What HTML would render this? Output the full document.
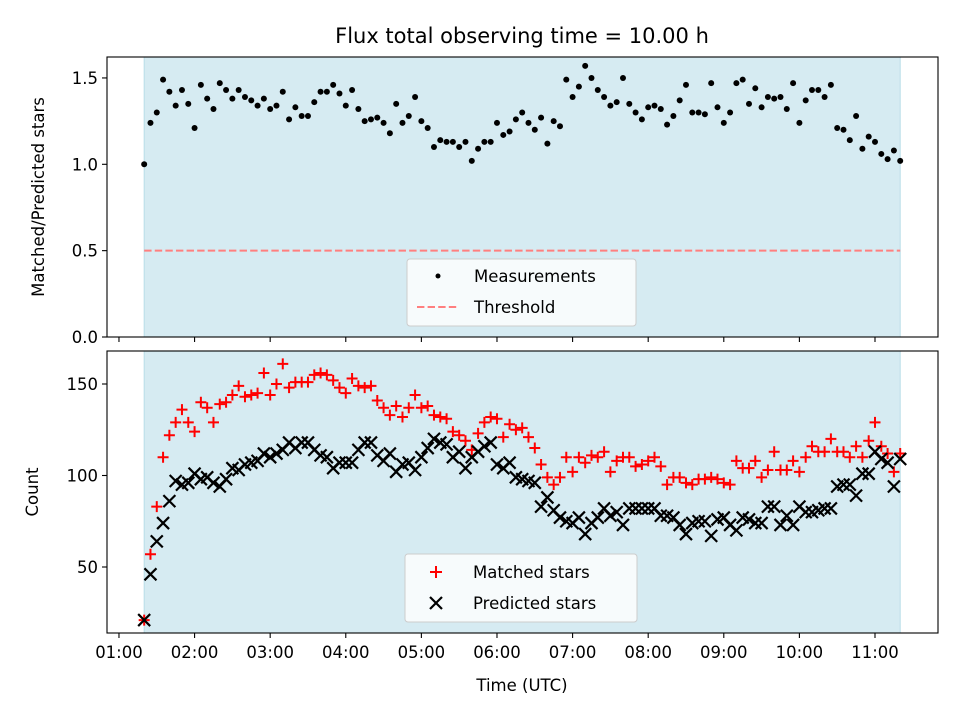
<!DOCTYPE html>
<html><head><meta charset="utf-8">
<style>
html,body{margin:0;padding:0;background:#fff;}
svg{display:block;font-family:"DejaVu Sans","Liberation Sans",sans-serif;}
</style></head>
<body>
<svg id="chart" width="960" height="720" viewBox="0 0 960 720">
</svg>
<script>
// ---- data ----
const startMinutes = 80; // 01:20
const stepMinutes = 5;
const ratioValues = [1.00,1.24,1.30,1.49,1.42,1.34,1.43,1.35,1.21,1.46,1.38,1.32,1.47,1.43,1.38,1.43,1.39,1.37,1.34,1.38,1.32,1.34,1.42,1.26,1.33,1.28,1.28,1.36,1.42,1.42,1.46,1.41,1.34,1.43,1.32,1.25,1.26,1.27,1.24,1.18,1.35,1.24,1.28,1.39,1.25,1.21,1.10,1.14,1.13,1.13,1.10,1.13,1.02,1.09,1.13,1.13,1.24,1.17,1.19,1.26,1.30,1.24,1.20,1.27,1.12,1.25,1.22,1.49,1.39,1.45,1.57,1.50,1.43,1.39,1.34,1.36,1.50,1.35,1.30,1.26,1.33,1.34,1.32,1.23,1.28,1.37,1.46,1.30,1.30,1.29,1.47,1.33,1.24,1.30,1.47,1.49,1.35,1.44,1.33,1.39,1.38,1.39,1.32,1.47,1.24,1.37,1.43,1.43,1.39,1.46,1.21,1.20,1.14,1.28,1.09,1.16,1.13,1.06,1.03,1.08,1.02];
const predictedValues = [21,46,64,74,86,97,95,96,101,98,99,96,94,98,104,103,106,107,108,112,110,112,114,118,115,118,118,114,111,110,104,107,107,107,114,118,118,111,108,112,102,106,107,103,110,115,120,118,117,110,113,104,110,113,116,118,106,104,107,99,98,97,96,83,88,81,77,75,74,77,68,74,77,82,78,80,73,82,82,82,82,82,78,78,77,73,68,74,75,75,67,76,77,73,70,77,76,74,74,83,83,73,78,73,83,80,80,81,82,82,94,95,95,89,101,101,113,109,107,94,109];
const matchedValues = [21,57,83,110,122,129,136,129,124,140,137,129,139,140,144,149,143,144,145,156,144,150,161,148,151,151,151,155,156,155,152,148,145,153,149,148,149,141,137,133,138,132,137,144,137,138,133,132,131,124,122,119,114,123,129,132,131,121,128,125,126,121,115,106,99,95,99,110,102,110,107,111,110,113,102,108,110,110,105,106,108,110,105,95,99,99,96,95,98,98,99,98,96,95,108,104,104,108,99,103,113,103,103,108,102,110,116,113,113,120,113,113,110,116,110,119,129,116,112,102,112];
const thresholdValue = 0.5;
const xTickLabels = ["01:00","02:00","03:00","04:00","05:00","06:00","07:00","08:00","09:00","10:00","11:00"];
const xTickMinutes = [60,120,180,240,300,360,420,480,540,600,660];
const topYTicks = [0.0,0.5,1.0,1.5];
const botYTicks = [50,100,150];

// ---- axes functions ----
const AX = {left:107,right:938};
const xMin = 50.5, xMax = 710;
function xs(m){return AX.left + (m - xMin)/(xMax - xMin)*(AX.right-AX.left);}
const TOP = {top:57,bottom:337};
function yTop(v){return 337 - v*172.7;}
const BOT = {top:351,bottom:633};
function yBot(v){return 567 - (v-50)*1.83;}

const NS="http://www.w3.org/2000/svg";
const svg=document.getElementById('chart');
function mk(tag,attrs,parent){const e=document.createElementNS(NS,tag);for(const k in attrs)e.setAttribute(k,attrs[k]);(parent||svg).appendChild(e);return e;}

const n = ratioValues.length;
const tStart = startMinutes, tEnd = startMinutes + (n-1)*stepMinutes;

// title
let t=mk('text',{x:522,y:43,'text-anchor':'middle','font-size':'21'});
t.textContent='Flux total observing time = 10.00 h';



function panel(P, name){
  const g=mk('g',{});
  
  
  const bg=mk('rect',{x:AX.left,y:P.top,width:AX.right-AX.left,height:P.bottom-P.top,fill:'#fff'},g);
  const sh=mk('rect',{x:xs(tStart),y:P.top,width:xs(tEnd)-xs(tStart),height:P.bottom-P.top,fill:'#d6ebf2'},g);
  
  
  mk('line',{x1:xs(tStart),x2:xs(tStart),y1:P.top,y2:P.bottom,stroke:'#b9dde8','stroke-width':1},g);
  mk('line',{x1:xs(tEnd),x2:xs(tEnd),y1:P.top,y2:P.bottom,stroke:'#b9dde8','stroke-width':1},g);
  return g;
}
function frame(P,g){
  mk('rect',{x:AX.left,y:P.top,width:AX.right-AX.left,height:P.bottom-P.top,fill:'none',stroke:'#000','stroke-width':1.1},g);
}
function xTicks(P,g,labels){
  xTickMinutes.forEach((m,i)=>{
    const x=xs(m);
    mk('line',{x1:x,x2:x,y1:P.bottom,y2:P.bottom+5,stroke:'#000','stroke-width':1.1},g);
    if(labels){
      const l=mk('text',{x:x,y:P.bottom+25,'text-anchor':'middle','font-size':'16.5'},g);
      l.textContent=xTickLabels[i];
      
      
    }
  });
}

// ---- top panel ----
const gTop=panel(TOP,'ratio-panel');
const thr=mk('line',{x1:xs(tStart),x2:xs(tEnd),y1:yTop(thresholdValue),y2:yTop(thresholdValue),stroke:'#ff7f7f','stroke-width':2,'stroke-dasharray':'7.4,3.2'},gTop);


ratioValues.forEach((v,i)=>{
  const c=mk('circle',{cx:xs(tStart+i*stepMinutes),cy:yTop(v),r:3,fill:'#000'},gTop);
  
  
});
frame(TOP,gTop);
xTicks(TOP,gTop,false);
topYTicks.forEach(v=>{
  const y=yTop(v);
  mk('line',{x1:AX.left-5,x2:AX.left,y1:y,y2:y,stroke:'#000','stroke-width':1.1},gTop);
  const l=mk('text',{x:AX.left-9,y:y+6,'text-anchor':'end','font-size':'16.5'},gTop);
  l.textContent=v.toFixed(1);
  
  
});
let yl=mk('text',{x:0,y:0,'text-anchor':'middle','font-size':'16.5',transform:'translate(44,197) rotate(-90)'});
yl.textContent='Matched/Predicted stars';



// top legend
const lg1=mk('g',{});


mk('rect',{x:407,y:259,width:229,height:67,rx:3,fill:'#f7fbfc',stroke:'#cccccc','stroke-width':1},lg1);
mk('circle',{cx:438,cy:276,r:2.5,fill:'#000'},lg1);
let lt=mk('text',{x:474,y:282,'font-size':'16.5'},lg1);lt.textContent='Measurements';


mk('line',{x1:417,x2:458,y1:307,y2:307,stroke:'#ff7f7f','stroke-width':2,'stroke-dasharray':'7.4,3.2'},lg1);
lt=mk('text',{x:474,y:313,'font-size':'16.5'},lg1);lt.textContent='Threshold';



// ---- bottom panel ----
const gBot=panel(BOT,'count-panel');
matchedValues.forEach((v,i)=>{
  const x=xs(tStart+i*stepMinutes), y=yBot(v), s=5.5;
  const p=mk('path',{d:`M${x-s},${y}H${x+s}M${x},${y-s}V${y+s}`,stroke:'#ff0000','stroke-width':2,fill:'none'},gBot);
  
  
});
predictedValues.forEach((v,i)=>{
  const x=xs(tStart+i*stepMinutes), y=yBot(v), s=6;
  const p=mk('path',{d:`M${x-s},${y-s}L${x+s},${y+s}M${x-s},${y+s}L${x+s},${y-s}`,stroke:'#000','stroke-width':2.2,fill:'none'},gBot);
  
  
});
frame(BOT,gBot);
xTicks(BOT,gBot,true);
botYTicks.forEach(v=>{
  const y=yBot(v);
  mk('line',{x1:AX.left-5,x2:AX.left,y1:y,y2:y,stroke:'#000','stroke-width':1.1},gBot);
  const l=mk('text',{x:AX.left-9,y:y+6,'text-anchor':'end','font-size':'16.5'},gBot);
  l.textContent=String(v);
  
  
});
yl=mk('text',{x:0,y:0,'text-anchor':'middle','font-size':'16.5',transform:'translate(38,492) rotate(-90)'});
yl.textContent='Count';


let xl=mk('text',{x:522,y:691,'text-anchor':'middle','font-size':'16.5'});
xl.textContent='Time (UTC)';



// bottom legend
const lg2=mk('g',{});


mk('rect',{x:405,y:554,width:232,height:68,rx:3,fill:'#f7fbfc',stroke:'#cccccc','stroke-width':1},lg2);
mk('path',{d:'M430,572H442M436,566V578',stroke:'#ff0000','stroke-width':2,fill:'none'},lg2);
lt=mk('text',{x:473,y:578,'font-size':'16.5'},lg2);lt.textContent='Matched stars';


mk('path',{d:'M430,597L442,609M430,609L442,597',stroke:'#000','stroke-width':2.2,fill:'none'},lg2);
lt=mk('text',{x:473,y:609,'font-size':'16.5'},lg2);lt.textContent='Predicted stars';


</script>
</body></html>
